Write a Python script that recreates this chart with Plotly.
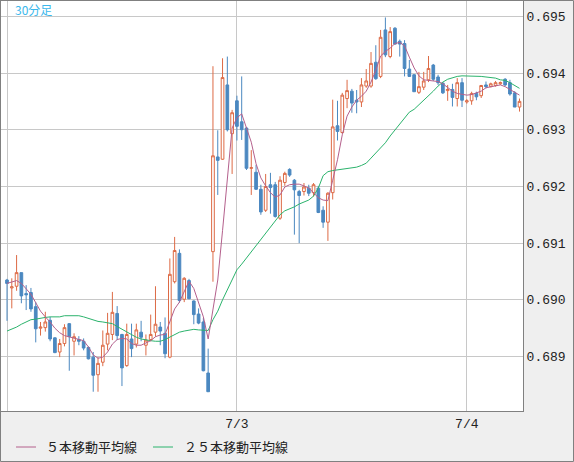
import pandas as pd
import plotly.graph_objects as go

# ---- data (30-minute bars) ----
start_time = "2015-07-02 00:00"
opens = [0.69035,0.69021,0.69024,0.69048,0.69011,0.69013,0.68988,0.68950,0.68951,0.68964,
         0.68933,0.68908,0.68923,0.68958,0.68927,0.68930,0.68927,0.68916,0.68899,0.68868,
         0.68890,0.68922,0.68939,0.68976,0.68939,0.68884,0.68931,0.68922,0.68943,0.68920,
         0.68930,0.68943,0.68952,0.68941,0.68899,0.69032,0.69082,0.69001,0.69034,0.68998,
         0.68975,0.68961,0.68871,0.69085,0.69252,0.69248,0.69379,0.69293,0.69351,0.69314,
         0.69303,0.69232,0.69225,0.69195,0.69158,0.69203,0.69203,0.69144,0.69207,0.69230,
         0.69211,0.69191,0.69191,0.69197,0.69189,0.69197,0.69158,0.69137,0.69189,0.69307,
         0.69295,0.69355,0.69368,0.69352,0.69349,0.69377,0.69377,0.69419,0.69394,0.69476,
         0.69429,0.69479,0.69456,0.69452,0.69407,0.69397,0.69366,0.69375,0.69388,0.69414,
         0.69393,0.69382,0.69369,0.69371,0.69355,0.69383,0.69349,0.69351,0.69364,0.69360,
         0.69379,0.69376,0.69378,0.69381,0.69389,0.69383,0.69365,0.69340]
highs = [0.69037,0.69038,0.69079,0.69048,0.69026,0.69021,0.68996,0.68961,0.68979,0.68970,
         0.68934,0.68931,0.68957,0.68959,0.68941,0.68936,0.68932,0.68918,0.68908,0.68899,
         0.68946,0.68977,0.69014,0.68989,0.68940,0.68958,0.68958,0.68958,0.68963,0.68939,
         0.68974,0.69024,0.68961,0.68969,0.69073,0.69111,0.69089,0.69040,0.69037,0.68999,
         0.68985,0.68968,0.68914,0.69412,0.69299,0.69426,0.69429,0.69335,0.69360,0.69394,
         0.69305,0.69264,0.69238,0.69203,0.69222,0.69224,0.69208,0.69218,0.69226,0.69232,
         0.69213,0.69194,0.69206,0.69203,0.69206,0.69201,0.69165,0.69190,0.69353,0.69351,
         0.69365,0.69388,0.69372,0.69370,0.69391,0.69407,0.69437,0.69449,0.69476,0.69498,
         0.69481,0.69481,0.69459,0.69458,0.69423,0.69398,0.69402,0.69402,0.69430,0.69416,
         0.69397,0.69384,0.69379,0.69381,0.69391,0.69391,0.69354,0.69367,0.69367,0.69379,
         0.69385,0.69383,0.69386,0.69385,0.69391,0.69388,0.69368,0.69355]
lows = [0.68963,0.68985,0.69016,0.68994,0.68982,0.68979,0.68925,0.68937,0.68944,0.68927,
        0.68906,0.68899,0.68918,0.68875,0.68902,0.68920,0.68911,0.68895,0.68838,0.68838,
        0.68883,0.68911,0.68929,0.68929,0.68848,0.68882,0.68899,0.68916,0.68927,0.68902,
        0.68927,0.68935,0.68920,0.68897,0.68897,0.69029,0.68995,0.68996,0.69001,0.68957,
        0.68957,0.68874,0.68838,0.69032,0.69185,0.69247,0.69297,0.69222,0.69281,0.69282,
        0.69229,0.69185,0.69194,0.69150,0.69155,0.69152,0.69145,0.69141,0.69201,0.69217,
        0.69115,0.69100,0.69184,0.69183,0.69182,0.69153,0.69127,0.69104,0.69177,0.69281,
        0.69293,0.69338,0.69330,0.69329,0.69340,0.69374,0.69374,0.69388,0.69391,0.69428,
        0.69426,0.69450,0.69429,0.69394,0.69393,0.69367,0.69363,0.69370,0.69384,0.69386,
        0.69379,0.69363,0.69351,0.69341,0.69341,0.69340,0.69346,0.69344,0.69352,0.69356,
        0.69373,0.69375,0.69376,0.69379,0.69377,0.69360,0.69340,0.69332]
closes = [0.69029,0.69023,0.69048,0.69007,0.69009,0.68984,0.68949,0.68952,0.68961,0.68931,
          0.68907,0.68923,0.68951,0.68935,0.68935,0.68927,0.68915,0.68896,0.68867,0.68888,
          0.68920,0.68941,0.68978,0.68937,0.68880,0.68939,0.68914,0.68947,0.68934,0.68929,
          0.68939,0.68957,0.68945,0.68905,0.69045,0.69087,0.68999,0.69038,0.69002,0.68974,
          0.68959,0.68875,0.68838,0.69254,0.69246,0.69392,0.69300,0.69330,0.69306,0.69300,
          0.69232,0.69233,0.69195,0.69155,0.69200,0.69198,0.69147,0.69211,0.69223,0.69220,
          0.69194,0.69184,0.69199,0.69188,0.69203,0.69154,0.69137,0.69188,0.69305,0.69297,
          0.69361,0.69369,0.69347,0.69349,0.69379,0.69386,0.69417,0.69390,0.69463,0.69432,
          0.69473,0.69451,0.69451,0.69408,0.69394,0.69367,0.69376,0.69386,0.69408,0.69389,
          0.69383,0.69365,0.69371,0.69357,0.69383,0.69352,0.69351,0.69364,0.69358,0.69378,
          0.69376,0.69381,0.69383,0.69383,0.69379,0.69363,0.69340,0.69350]
ma5 = [0.69029,0.69032,0.69034,0.69029,0.69019,0.69010,0.68995,0.68980,0.68970,0.68961,
       0.68950,0.68942,0.68937,0.68935,0.68933,0.68931,0.68928,0.68917,0.68903,0.68897,
       0.68899,0.68908,0.68922,0.68930,0.68932,0.68931,0.68923,0.68920,0.68920,0.68924,
       0.68928,0.68935,0.68938,0.68939,0.68961,0.68984,0.68996,0.69014,0.69033,0.69020,
       0.68995,0.68970,0.68931,0.68981,0.69035,0.69122,0.69208,0.69303,0.69321,0.69328,
       0.69303,0.69278,0.69240,0.69215,0.69201,0.69189,0.69181,0.69185,0.69199,0.69203,
       0.69204,0.69204,0.69201,0.69197,0.69189,0.69180,0.69176,0.69175,0.69211,0.69247,
       0.69291,0.69324,0.69340,0.69352,0.69359,0.69368,0.69384,0.69405,0.69430,0.69438,
       0.69444,0.69452,0.69454,0.69448,0.69428,0.69409,0.69395,0.69388,0.69387,0.69386,
       0.69385,0.69381,0.69374,0.69368,0.69364,0.69362,0.69361,0.69362,0.69365,0.69368,
       0.69374,0.69376,0.69378,0.69379,0.69376,0.69371,0.69366,0.69361]
ma25 = [0.68945,0.68948,0.68952,0.68957,0.68961,0.68965,0.68966,0.68968,0.68969,0.68970,
        0.68970,0.68970,0.68972,0.68972,0.68972,0.68972,0.68970,0.68967,0.68965,0.68962,
        0.68961,0.68960,0.68958,0.68953,0.68948,0.68943,0.68939,0.68934,0.68931,0.68929,
        0.68928,0.68927,0.68927,0.68930,0.68934,0.68939,0.68943,0.68945,0.68947,0.68948,
        0.68947,0.68946,0.68946,0.68965,0.68980,0.69000,0.69017,0.69035,0.69053,0.69063,
        0.69074,0.69084,0.69095,0.69106,0.69118,0.69129,0.69141,0.69150,0.69157,0.69160,
        0.69164,0.69169,0.69173,0.69176,0.69183,0.69197,0.69219,0.69226,0.69228,0.69229,
        0.69230,0.69231,0.69232,0.69234,0.69237,0.69241,0.69250,0.69259,0.69268,0.69277,
        0.69289,0.69300,0.69310,0.69322,0.69331,0.69336,0.69344,0.69351,0.69359,0.69368,
        0.69377,0.69384,0.69389,0.69392,0.69394,0.69395,0.69395,0.69395,0.69394,0.69394,
        0.69393,0.69392,0.69391,0.69388,0.69387,0.69383,0.69378,0.69373]
price_ticks = [0.689, 0.690, 0.691, 0.692, 0.693, 0.694, 0.695]
date_ticks = ["2015-07-02", "2015-07-03", "2015-07-04"]
date_labels = ["", "7/3", "7/4"]
legend_labels = ["５本移動平均線", "２５本移動平均線"]
title_label = "30分足"

times = pd.date_range(start_time, periods=len(opens), freq="30min")

UP = "#dd6a45"
DOWN = "#4b88c0"
MA5_C = "#b4608c"
MA25_C = "#2bb36c"
GRID = "#c8c8c8"
FRAME = "#808080"

fig = go.Figure()
fig.add_trace(go.Candlestick(
    x=times, open=opens, high=highs, low=lows, close=closes,
    increasing=dict(line=dict(color=UP, width=1), fillcolor="white"),
    decreasing=dict(line=dict(color=DOWN, width=1), fillcolor=DOWN),
    whiskerwidth=0, showlegend=False, hoverinfo="skip",
))
fig.add_trace(go.Scatter(x=times, y=ma25, mode="lines",
                         line=dict(color=MA25_C, width=1), showlegend=False, hoverinfo="skip"))
fig.add_trace(go.Scatter(x=times, y=ma5, mode="lines",
                         line=dict(color=MA5_C, width=1), showlegend=False, hoverinfo="skip"))

W, H = 574, 462
L, R, T, B = 1, 51, 1, 51
pw, ph = W - L - R, H - T - B

def px(xp):
    return (xp - L) / pw

def py(yp):
    return (H - B - yp) / ph

fig.update_layout(
    width=W, height=H,
    margin=dict(l=L, r=R, t=T, b=B, pad=0),
    paper_bgcolor="#efefef", plot_bgcolor="white",
    showlegend=False, boxgap=0.2,
    font=dict(family="Liberation Mono, DejaVu Sans Mono, monospace", size=13, color="#222"),
)
fig.update_xaxes(
    type="date",
    range=["2015-07-01 23:22:24", "2015-07-04 05:51:54"],
    tickvals=date_ticks, ticktext=date_labels,
    showgrid=True, gridcolor=GRID, gridwidth=1,
    showline=True, linecolor=FRAME, linewidth=1, mirror=True,
    ticks="", rangeslider=dict(visible=False), zeroline=False,
    tickfont=dict(size=13, color="#222"),
)
fig.update_yaxes(
    range=[0.68804, 0.69527], side="right",
    tickvals=price_ticks, ticktext=[f"{v:.3f}" for v in price_ticks],
    showgrid=True, gridcolor=GRID, gridwidth=1,
    showline=True, linecolor=FRAME, linewidth=1, mirror=True,
    ticks="", zeroline=False,
    tickfont=dict(size=13, color="#222"),
)

shapes = [
    dict(type="rect", xref="paper", yref="paper",
         x0=px(0.5), x1=px(573.5), y0=py(461.5), y1=py(0.5),
         line=dict(color=FRAME, width=1), fillcolor="rgba(0,0,0,0)", layer="above"),
    dict(type="line", xref="paper", yref="paper",
         x0=px(16), x1=px(36), y0=py(447), y1=py(447),
         line=dict(color=MA5_C, width=1)),
    dict(type="line", xref="paper", yref="paper",
         x0=px(153), x1=px(173), y0=py(447), y1=py(447),
         line=dict(color=MA25_C, width=1)),
]
fig.update_layout(shapes=shapes)

cjk = "Noto Sans CJK JP, Noto Sans, sans-serif"
fig.add_annotation(xref="paper", yref="paper", x=px(44), y=py(446.5),
                   text=legend_labels[0], showarrow=False, xanchor="left", yanchor="middle",
                   font=dict(family=cjk, size=13, color="#222"))
fig.add_annotation(xref="paper", yref="paper", x=px(182), y=py(446.5),
                   text=legend_labels[1], showarrow=False, xanchor="left", yanchor="middle",
                   font=dict(family=cjk, size=13, color="#222"))
fig.add_annotation(xref="paper", yref="paper", x=px(13), y=py(9.5),
                   text=title_label, showarrow=False, xanchor="left", yanchor="middle",
                   font=dict(family=cjk, size=12, color="#3ab8ec"))

fig.write_html("out.html")
